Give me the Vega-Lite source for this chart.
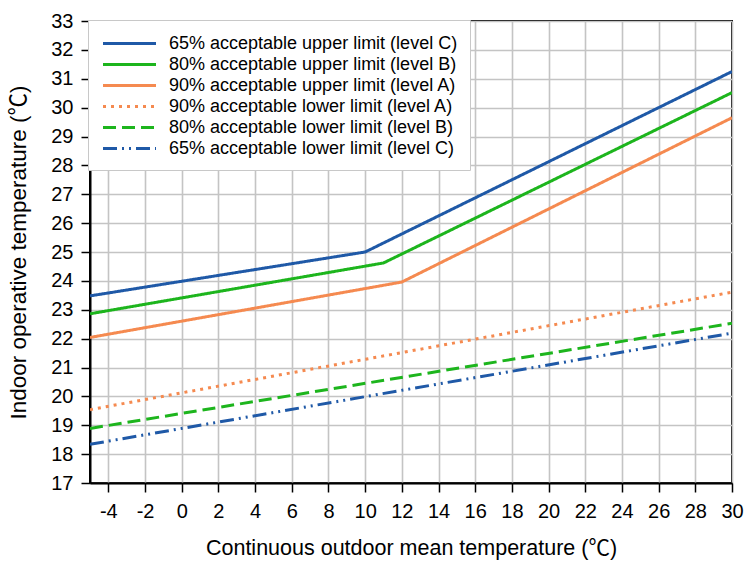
{
  "$schema": "https://vega.github.io/schema/vega-lite/v6.json",
  "autosize": "none",
  "width": 642,
  "height": 462,
  "padding": {"left": 90, "top": 21, "right": 17, "bottom": 83},
  "background": "white",
  "config": {
    "font": "Liberation Sans, Noto Sans CJK SC, sans-serif",
    "view": {"stroke": "#000000", "strokeWidth": 2},
    "axis": {
      "labelColor": "#000000",
      "titleColor": "#000000",
      "labelFontWeight": "normal",
      "titleFontWeight": "normal",
      "domainColor": "#000000",
      "domainWidth": 2,
      "tickColor": "#000000",
      "tickWidth": 1.5,
      "tickSize": 9,
      "gridColor": "#c4c4c4",
      "gridWidth": 1.6,
      "gridOpacity": 1
    }
  },
  "data": {
    "values": [
      {"series": "65% acceptable upper limit (level C)", "x": -5, "y": 23.48},
      {"series": "65% acceptable upper limit (level C)", "x": 10, "y": 25.0},
      {"series": "65% acceptable upper limit (level C)", "x": 30, "y": 31.25},
      {"series": "80% acceptable upper limit (level B)", "x": -5, "y": 22.86},
      {"series": "80% acceptable upper limit (level B)", "x": 11, "y": 24.62},
      {"series": "80% acceptable upper limit (level B)", "x": 30, "y": 30.52},
      {"series": "90% acceptable upper limit (level A)", "x": -5, "y": 22.04},
      {"series": "90% acceptable upper limit (level A)", "x": 12, "y": 23.96},
      {"series": "90% acceptable upper limit (level A)", "x": 30, "y": 29.65},
      {"series": "90% acceptable lower limit (level A)", "x": -5, "y": 19.54},
      {"series": "90% acceptable lower limit (level A)", "x": 30, "y": 23.61},
      {"series": "80% acceptable lower limit (level B)", "x": -5, "y": 18.89},
      {"series": "80% acceptable lower limit (level B)", "x": 30, "y": 22.53},
      {"series": "65% acceptable lower limit (level C)", "x": -5, "y": 18.34},
      {"series": "65% acceptable lower limit (level C)", "x": 30, "y": 22.19}
    ]
  },
  "mark": {"type": "line", "strokeWidth": 3, "clip": true},
  "encoding": {
    "x": {
      "field": "x",
      "type": "quantitative",
      "scale": {"domain": [-5, 30], "nice": false, "zero": false},
      "axis": {
        "values": [-4, -2, 0, 2, 4, 6, 8, 10, 12, 14, 16, 18, 20, 22, 24, 26, 28, 30],
        "labelExpr": "toString(datum.value)",
        "title": "Continuous outdoor mean temperature (℃)",
        "titleFontSize": 21.5,
        "titlePadding": 16,
        "labelFontSize": 20,
        "labelPadding": 9,
        "labelFlush": false,
        "labelOverlap": false
      }
    },
    "y": {
      "field": "y",
      "type": "quantitative",
      "scale": {"domain": [17, 33], "nice": false, "zero": false},
      "axis": {
        "values": [17, 18, 19, 20, 21, 22, 23, 24, 25, 26, 27, 28, 29, 30, 31, 32, 33],
        "labelExpr": "toString(datum.value)",
        "title": "Indoor operative temperature (℃)",
        "titleFontSize": 22.5,
        "titlePadding": 20,
        "labelFontSize": 20,
        "labelPadding": 8,
        "labelFlush": false,
        "labelOverlap": false
      }
    },
    "color": {
      "field": "series",
      "type": "nominal",
      "scale": {
        "domain": [
          "65% acceptable upper limit (level C)",
          "80% acceptable upper limit (level B)",
          "90% acceptable upper limit (level A)",
          "90% acceptable lower limit (level A)",
          "80% acceptable lower limit (level B)",
          "65% acceptable lower limit (level C)"
        ],
        "range": ["#1f59a7", "#1db51d", "#f58a50", "#f58a50", "#1db51d", "#1f59a7"]
      },
      "legend": {
        "title": null,
        "orient": "none",
        "legendX": -2,
        "legendY": -1,
        "fillColor": "#ffffff",
        "strokeColor": "#c8c8c8",
        "padding": 12,
        "symbolOffset": 18,
        "symbolType": "M-2.65,0H2.65",
        "symbolSize": 400,
        "symbolStrokeWidth": 3,
        "labelFontSize": 18,
        "labelColor": "#000000",
        "labelOffset": 28,
        "labelLimit": 400,
        "rowPadding": 0
      }
    },
    "strokeDash": {
      "field": "series",
      "type": "nominal",
      "scale": {
        "domain": [
          "65% acceptable upper limit (level C)",
          "80% acceptable upper limit (level B)",
          "90% acceptable upper limit (level A)",
          "90% acceptable lower limit (level A)",
          "80% acceptable lower limit (level B)",
          "65% acceptable lower limit (level C)"
        ],
        "range": [[1, 0], [1, 0], [1, 0], [3, 5], [13, 6], [14, 5, 2, 5, 2, 5]]
      },
      "legend": null
    }
  }
}
